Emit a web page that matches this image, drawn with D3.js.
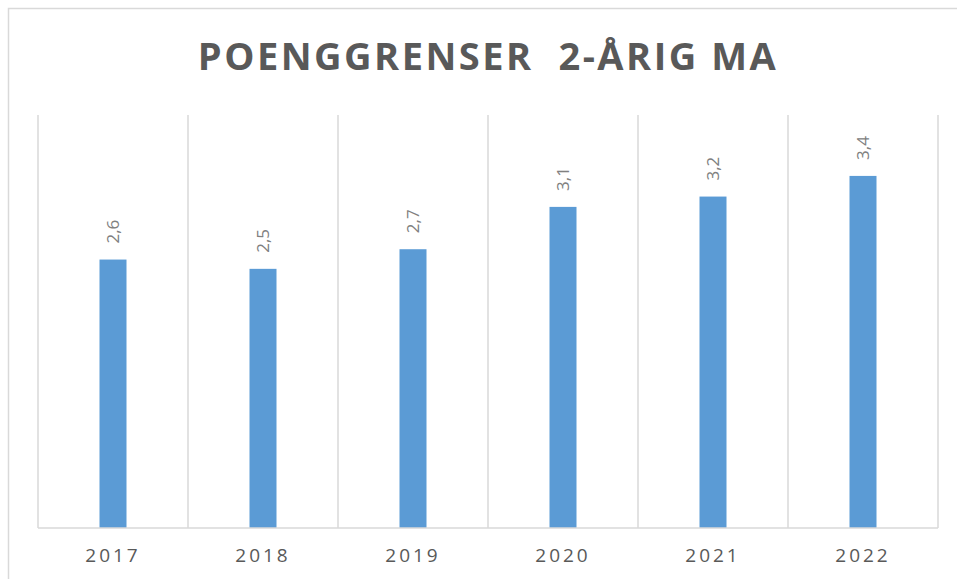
<!DOCTYPE html>
<html>
<head>
<meta charset="utf-8">
<script src="https://cdn.jsdelivr.net/npm/d3@7"></script>
<style>
  body { margin: 0; background: #fff; }
  svg { display: block; }
</style>
</head>
<body>
<div id="chart"></div>
<script>
// data
var years = ["2017", "2018", "2019", "2020", "2021", "2022"];
var values = [2.6, 2.51, 2.7, 3.11, 3.21, 3.41];
var yMax = 4;

var width = 957, height = 579;
var plotLeft = 38, plotRight = 938, plotTop = 115, plotBottom = 528;

var svg = d3.select("#chart").append("svg")
    .attr("width", width)
    .attr("height", height);

// outer chart border (only top and left show inside the crop)
svg.append("rect")
    .attr("x", 8.5).attr("y", 8.5)
    .attr("width", 960).attr("height", 600)
    .style("fill", "none")
    .style("stroke", "#d9d9d9")
    .style("stroke-width", 1.5);

// title
svg.append("text")
    .attr("x", 488)
    .attr("y", 70)
    .attr("text-anchor", "middle")
    .style("font-family", "'Open Sans', sans-serif")
    .style("font-weight", "bold")
    .style("font-size", "38px")
    .style("letter-spacing", "2.5px")
    .style("fill", "#595959")
    .style("white-space", "pre")
    .text("POENGGRENSER  2-ÅRIG MA");

var x = d3.scaleBand().domain(years).range([plotLeft, plotRight]);
var y = d3.scaleLinear().domain([0, yMax]).range([plotBottom, plotTop]);

// vertical gridlines at category boundaries
var bounds = years.map(function(d) { return x(d); }).concat([plotRight]);
svg.selectAll(".grid")
    .data(bounds)
    .enter()
    .append("line")
        .attr("class", "grid")
        .attr("x1", function(d) { return d; })
        .attr("x2", function(d) { return d; })
        .attr("y1", y(yMax))
        .attr("y2", y(0))
        .style("stroke", "#d9d9d9")
        .style("stroke-width", 1.5);

// bars
var barW = 27;
svg.selectAll(".bar")
    .data(values)
    .enter()
    .append("rect")
        .attr("class", "bar")
        .attr("x", function(d, i) { return x(years[i]) + x.bandwidth() / 2 - barW / 2; })
        .attr("y", function(d) { return y(d); })
        .attr("width", barW)
        .attr("height", function(d) { return y(0) - y(d); })
        .style("fill", "#5b9bd5");

// value labels, rotated
var fmt = d3.format(".1f");
svg.selectAll(".val")
    .data(values)
    .enter()
    .append("text")
        .attr("class", "val")
        .attr("transform", function(d, i) {
            var cx = x(years[i]) + x.bandwidth() / 2 + 6;
            return "translate(" + cx + "," + (y(d) - 16) + ") rotate(-90)";
        })
        .style("font-family", "'Open Sans', sans-serif")
        .style("font-size", "17px")
        .style("fill", "#808080")
        .text(function(d) { return fmt(d).replace(".", ","); });

// x axis
var axis = svg.append("g")
    .attr("transform", "translate(0," + plotBottom + ")")
    .call(d3.axisBottom(x).tickSize(0).tickPadding(21));
axis.select(".domain")
    .attr("d", "M" + plotLeft + ",0H" + plotRight)
    .style("stroke", "#d9d9d9")
    .style("stroke-width", 1.5);
axis.selectAll("text")
    .style("font-family", "'Open Sans', sans-serif")
    .style("font-size", "19px")
    .style("letter-spacing", "3px")
    .style("fill", "#595959");
</script>
</body>
</html>
